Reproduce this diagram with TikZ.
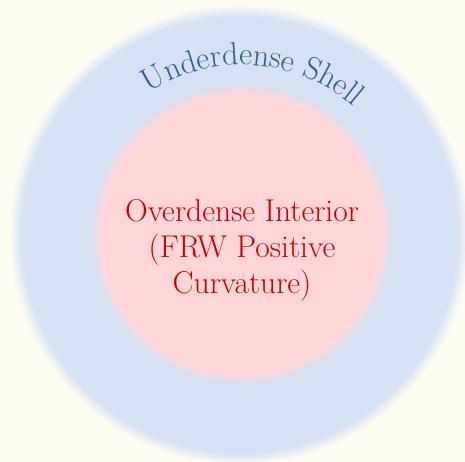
\documentclass[tikz,border=0pt]{standalone}
\usetikzlibrary{decorations.text}
\definecolor{paper}{HTML}{FEFDF2}
\definecolor{shell}{HTML}{D6E2F3}
\definecolor{core}{HTML}{FFD6D8}
\definecolor{shellink}{HTML}{2E5C9E}
\definecolor{coreink}{HTML}{CC0000}
\newcommand{\bigfont}{\fontsize{31.5}{36}\selectfont}
\newcommand{\arcfont}{\fontsize{32}{38}\selectfont}

\begin{document}
\begin{tikzpicture}[x=1pt,y=1pt,coretext/.style={font=\bigfont,text=coreink,align=center}]
 \useasboundingbox (0,0) rectangle (465,462);
 \clip (0,0) rectangle (465,462);
 \fill[paper] (0,0) rectangle (465,462);
 \coordinate (outer) at (240,227);
 \coordinate (centre) at (242,227);
 % soft edges: rings that fade into the colour outside
 \foreach \k in {0,10,...,100} \fill[shell!\k!paper] (outer) circle[radius=231-\k*0.12];
 \foreach \k in {0,10,...,100} \fill[core!\k!shell] (centre) circle[radius=152-\k*0.12];
 \path[decorate,decoration={text along path,text align=center,text={|\arcfont\color{shellink}|Underdense Shell}}]
  ([shift={(131:170)}]centre) arc[start angle=131,end angle=41,radius=170];
 \node[coretext] (interior) at (242,211.5) {Overdense Interior\\(FRW Positive\hspace*{7pt}\\Curvature)};
\end{tikzpicture}
\end{document}
